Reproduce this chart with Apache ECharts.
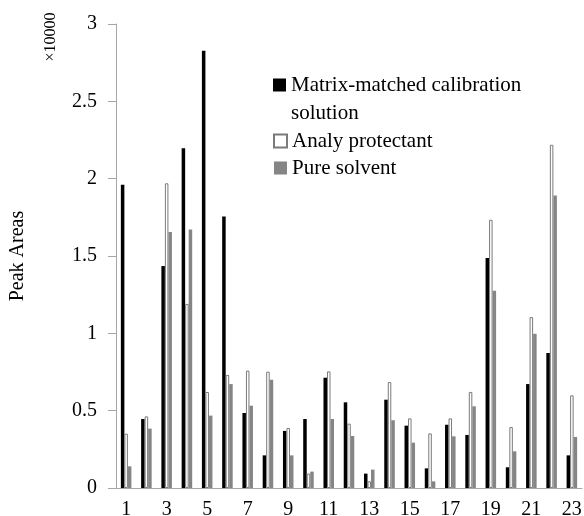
<!DOCTYPE html>
<html>
<head>
<meta charset="utf-8">
<script src="https://cdn.jsdelivr.net/npm/echarts@6/dist/echarts.min.js"></script>
<style>html,body{margin:0;padding:0;background:#fff}#c{width:584px;height:516px}</style>
</head>
<body>
<div id="c"></div>
<script>
const categories = ['1','2','3','4','5','6','7','8','9','10','11','12','13','14','15','16','17','18','19','20','21','22','23'];
const matrixMatched = [1.96, 0.446, 1.435, 2.196, 2.827, 1.756, 0.485, 0.211, 0.369, 0.446, 0.713, 0.554, 0.093, 0.571, 0.403, 0.127, 0.409, 0.343, 1.487, 0.134, 0.672, 0.873, 0.211];
const analyProtectant = [0.351, 0.463, 1.97, 1.19, 0.621, 0.731, 0.759, 0.752, 0.388, 0.093, 0.754, 0.416, 0.043, 0.685, 0.450, 0.353, 0.450, 0.621, 1.734, 0.394, 1.105, 2.219, 0.599];
const pureSolvent = [0.140, 0.384, 1.655, 1.672, 0.468, 0.672, 0.532, 0.700, 0.211, 0.106, 0.446, 0.336, 0.119, 0.438, 0.293, 0.043, 0.334, 0.528, 1.275, 0.237, 0.997, 1.891, 0.330];
const yTicks = [0, 0.5, 1, 1.5, 2, 2.5, 3];
const seriesNames = ['Matrix-matched calibration solution', 'Analy protectant', 'Pure solvent'];

const FONT = "'Liberation Serif', 'Times New Roman', serif";
const chart = echarts.init(document.getElementById('c'), null, {renderer: 'canvas'});
chart.setOption({
  animation: false,
  backgroundColor: '#fff',
  grid: {left: 116, right: 2, top: 24, bottom: 28, containLabel: false, outerBoundsMode: 'none'},
  graphic: [{
    type: 'text', x: 51, y: 37, rotation: Math.PI / 2,
    style: {text: '×10000', fontFamily: FONT, fontSize: 16, fill: '#000', align: 'center', verticalAlign: 'middle'}
  }],
  legend: [{
    data: [seriesNames[0]], orient: 'vertical', left: 273, top: 43, padding: 0,
    icon: 'rect', itemWidth: 13, itemHeight: 13, itemGap: 0,
    formatter: () => ' \nMatrix-matched calibration\nsolution',
    textStyle: {fontFamily: FONT, fontSize: 21, color: '#000', lineHeight: 28}
  }, {
    data: [seriesNames[1], seriesNames[2]], orient: 'vertical', left: 273, top: 127, padding: 0,
    icon: 'rect', itemWidth: 13, itemHeight: 13, itemGap: -1,
    textStyle: {fontFamily: FONT, fontSize: 21, color: '#000', lineHeight: 28}
  }],
  xAxis: {
    type: 'category', data: categories,
    axisLine: {show: true, lineStyle: {color: '#a6a6a6', width: 1}},
    axisTick: {show: false},
    axisLabel: {interval: 1, margin: 12, fontFamily: FONT, fontSize: 20, color: '#000'}
  },
  yAxis: {
    type: 'value', min: yTicks[0], max: yTicks[yTicks.length - 1], interval: 0.5,
    name: 'Peak Areas', nameLocation: 'middle', nameGap: 88, nameRotate: 90,
    nameTextStyle: {fontFamily: FONT, fontSize: 20, color: '#000'},
    axisLine: {show: true, lineStyle: {color: '#a6a6a6', width: 1}},
    axisTick: {show: true, length: 8, lineStyle: {color: '#a6a6a6'}},
    splitLine: {show: false},
    axisLabel: {margin: 19, fontFamily: FONT, fontSize: 20, color: '#000'}
  },
  series: [{
    name: seriesNames[0], type: 'bar', data: matrixMatched,
    barGap: '0%', barCategoryGap: '48%',
    itemStyle: {color: '#000000'}
  }, {
    name: seriesNames[1], type: 'bar', data: analyProtectant,
    itemStyle: {color: '#ffffff', borderColor: '#7a7a7a', borderWidth: 1}
  }, {
    name: seriesNames[2], type: 'bar', data: pureSolvent,
    itemStyle: {color: '#858585'}
  }]
});
</script>
</body>
</html>
